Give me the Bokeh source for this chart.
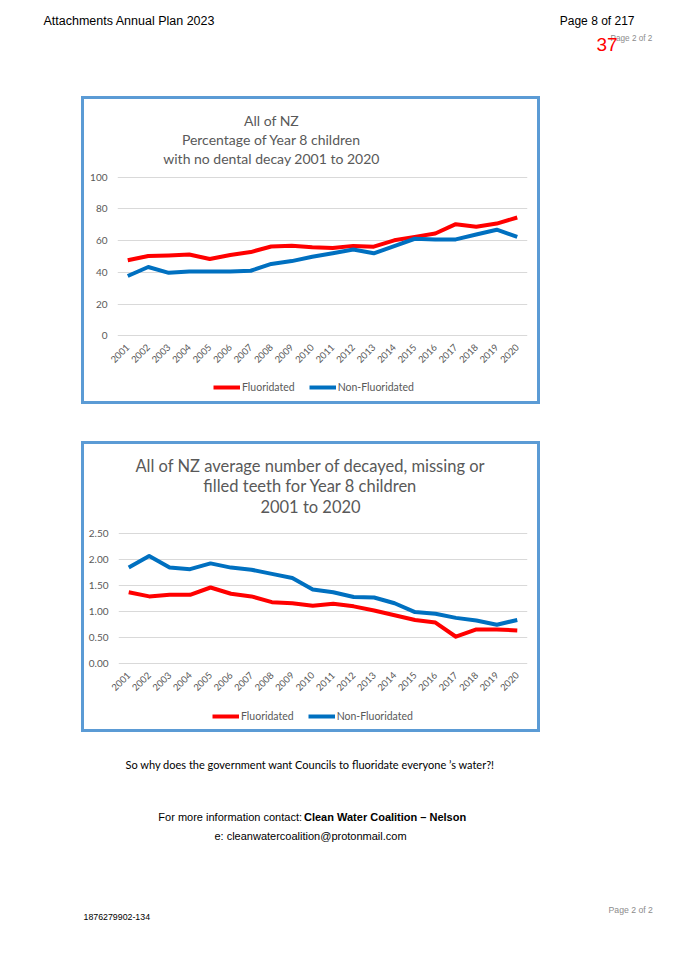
import math
from bokeh.plotting import figure
from bokeh.models import (Range1d, FactorRange, FixedTicker, Legend, LegendItem,
                          NumeralTickFormatter, Spacer)
from bokeh.layouts import column, row
from bokeh.embed import file_html
from bokeh.resources import INLINE
from bokeh.core.properties import value

# ---------------- data ----------------
years = ["2001", "2002", "2003", "2004", "2005", "2006", "2007", "2008", "2009", "2010",
         "2011", "2012", "2013", "2014", "2015", "2016", "2017", "2018", "2019", "2020"]

# % of Year 8 children with no dental decay
fluor_pct = [47.6, 50.3, 50.7, 51.3, 48.4, 51.0, 52.8, 56.3, 56.8, 55.9,
             55.3, 56.7, 56.2, 60.2, 62.4, 64.5, 70.4, 68.8, 70.8, 74.6]
nonfl_pct = [37.7, 43.4, 39.7, 40.5, 40.5, 40.5, 41.0, 45.3, 47.1, 49.8,
             52.0, 54.4, 52.0, 56.6, 61.2, 60.8, 60.8, 63.9, 66.9, 62.4]

# average number of decayed, missing or filled teeth
fluor_dmft = [1.37, 1.29, 1.32, 1.32, 1.46, 1.34, 1.29, 1.18, 1.16, 1.11,
              1.15, 1.10, 1.02, 0.93, 0.84, 0.79, 0.52, 0.66, 0.66, 0.64]
nonfl_dmft = [1.84, 2.06, 1.84, 1.81, 1.92, 1.84, 1.80, 1.72, 1.64, 1.42,
              1.37, 1.28, 1.27, 1.16, 0.99, 0.96, 0.88, 0.83, 0.75, 0.84]

pct_ticks = [0, 20, 40, 60, 80, 100]
dmft_ticks = [0.0, 0.5, 1.0, 1.5, 2.0, 2.5]

series_names = ["Fluoridated", "Non-Fluoridated"]

title1 = ["All of NZ", "Percentage of Year 8 children", "with no dental decay 2001 to 2020"]
title2 = ["All of NZ average number of decayed, missing or",
          "filled teeth for Year 8 children", "2001 to 2020"]

# ---------------- styles ----------------
TXT = "#595959"
RED = "#FF0000"
BLUE = "#0070C0"
BORDER = "#5B9BD5"
GRID = "#D9D9D9"
CF = "Lato"
DF = "Liberation Sans"
PAGE_W = 667
SERIES_COLORS = [RED, BLUE]


def text_fig(w, h, x0, x1, y0, y1):
    """A blank figure; its frame spans page pixels x0..x1, y0..y1."""
    p = figure(width=w, height=h, x_range=Range1d(x0, x1),
               y_range=Range1d(y1, y0), output_backend="svg", toolbar_location=None,
               min_border=0, x_axis_location=None, y_axis_location=None)
    p.grid.visible = False
    p.outline_line_color = None
    return p


def ptext(p, x, y, t, size, color="#000000", font=DF, align="left", style="normal"):
    p.text(x=[x], y=[y], text=[t], text_font=value(font), text_font_size=size,
           text_color=color, text_align=align, text_baseline="middle", text_font_style=style)


def strip(w, h):
    return Spacer(width=w, height=h, styles={"background-color": BORDER})


def make_chart(width, height, fl, fr, ft, fb, yr, ticks, fmt, ydata_f, ydata_n):
    p = figure(width=width, height=height, x_range=FactorRange(factors=years),
               y_range=Range1d(*yr), output_backend="svg", toolbar_location=None,
               min_border_left=fl, min_border_right=fr, min_border_top=ft,
               min_border_bottom=fb, border_fill_color="white")
    p.outline_line_color = None
    p.xgrid.visible = False
    p.ygrid.ticker = FixedTicker(ticks=ticks)
    p.ygrid.grid_line_color = GRID
    p.yaxis.ticker = FixedTicker(ticks=ticks)
    if fmt:
        p.yaxis.formatter = NumeralTickFormatter(format=fmt)
    for ax in (p.xaxis, p.yaxis):
        ax.axis_line_color = None
        ax.major_tick_line_color = None
        ax.minor_tick_line_color = None
        ax.major_tick_out = 0
        ax.major_tick_in = 0
        ax.minor_tick_out = 0
        ax.major_label_text_font = CF
        ax.major_label_text_color = TXT
    p.yaxis.major_label_text_font_size = "10px"
    p.xaxis.major_label_text_font_size = "9.5px"
    p.yaxis.major_label_standoff = 10
    p.xaxis.major_label_standoff = 9
    p.xaxis.major_label_orientation = math.pi / 4

    p.line(years, ydata_f, color=SERIES_COLORS[0], line_width=4, line_join="round")
    p.line(years, ydata_n, color=SERIES_COLORS[1], line_width=4, line_join="round")
    return p


def legend_fig(width, height, dx, dy):
    """Legend strip below a chart (keys styled exactly like the chart's lines).
    Its frame is aligned by the column layout with the chart frame above it."""
    p = figure(width=width, height=height, x_range=Range1d(0, 1), y_range=Range1d(0, 1),
               output_backend="svg", toolbar_location=None, min_border=0,
               x_axis_location=None, y_axis_location=None)
    p.grid.visible = False
    p.outline_line_color = None
    items = []
    for name, col in zip(series_names, SERIES_COLORS):
        # key-only renderer: its two points lie outside the visible range
        r = p.line(x=[-3, -2], y=[-3, -3], color=col, line_width=4)
        items.append(LegendItem(label=name, renderers=[r]))
    leg = Legend(items=items, orientation="horizontal", location=(dx, dy),
                 glyph_width=27, glyph_height=12, label_text_font=CF,
                 label_text_font_size="10.5px", label_text_color=TXT, label_standoff=2,
                 label_height=12, spacing=14, padding=0, margin=0,
                 border_line_color=None, background_fill_alpha=0)
    p.add_layout(leg)
    return p


# ---------------- header (page y 0-96) ----------------
header = text_fig(PAGE_W, 96, 0, PAGE_W, 0, 96)
ptext(header, 43, 20, "Attachments Annual Plan 2023", "12.5px")
ptext(header, 634, 20, "Page 8 of 217", "12px", align="right")
ptext(header, 610, 38, "Page 2 of 2", "8.2px", color="#8C8C8C")
ptext(header, 596, 44, "37", "19px", color="#FF0000")

# ---------------- chart 1 box (page x 81-540, y 96-404) ----------------
# frame of the chart (and, by layout alignment, of the title strip): x 117-527
t1 = text_fig(453, 71, 117, 527, 99, 170)
for t, ty in zip(title1, [120, 138.5, 157.5]):
    ptext(t1, 271, ty, t, "14px", color=TXT, font=CF, align="center")
chart1 = make_chart(453, 206, 33, 10, 6, 40, (-0.5, 100.5), pct_ticks, None,
                    fluor_pct, nonfl_pct)
leg1 = legend_fig(453, 25, 96, 8)
box1 = column(strip(459, 3),
              row(strip(3, 302), column(t1, chart1, leg1), strip(3, 302)),
              strip(459, 3))

# ---------------- chart 2 box (page x 81-540, y 441-732) ----------------
t2 = text_fig(453, 79, 118, 527, 444, 523)
for t, ty in zip(title2, [465, 485.5, 506.5]):
    ptext(t2, 310, ty, t, "16.5px", color=TXT, font=CF, align="center")
chart2 = make_chart(453, 181, 34, 10, 9, 40, (-0.01, 2.51), dmft_ticks, "0.00",
                    fluor_dmft, nonfl_dmft)
leg2 = legend_fig(453, 25, 94, 7)
box2 = column(strip(459, 3),
              row(strip(3, 285), column(t2, chart2, leg2), strip(3, 285)),
              strip(459, 3))

# ---------------- footer (page y 732-947) ----------------
footer = text_fig(PAGE_W, 215, 0, PAGE_W, 732, 947)
ptext(footer, 125, 764, "So why does the government want Councils to fluoridate everyone \u2019s water?!",
      "11px", font=CF)
ptext(footer, 301.5, 816, "For more information contact:", "11px", align="right")
ptext(footer, 303.5, 816, "Clean Water Coalition \u2013 Nelson", "11px", style="bold")
ptext(footer, 310, 835, "e: cleanwatercoalition@protonmail.com", "11px", align="center")
ptext(footer, 83, 916, "1876279902-134", "8.8px")
ptext(footer, 608, 909, "Page 2 of 2", "8.7px", color="#8C8C8C")

layout = column(header,
                row(Spacer(width=81, height=308), box1),
                Spacer(width=PAGE_W, height=37),
                row(Spacer(width=81, height=291), box2),
                footer)

open("out.html", "w").write(file_html(layout, INLINE))
